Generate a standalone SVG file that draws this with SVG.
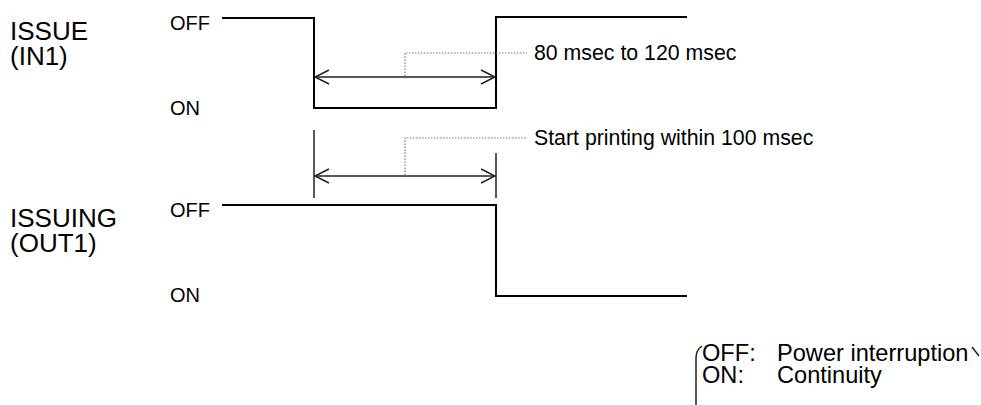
<svg xmlns="http://www.w3.org/2000/svg" width="981" height="405" viewBox="0 0 981 405">
<style>
text{font-family:"Liberation Sans",Arial,sans-serif;fill:#000}
.big{font-size:26px}
.lvl{font-size:20px}
.note{font-size:21.3px}
.leg{font-size:23.6px}
.sig{fill:none;stroke:#000;stroke-width:2}
.dim{fill:none;stroke:#222;stroke-width:1.5}
.tick{fill:none;stroke:#222;stroke-width:1.5}
.lead{fill:none;stroke:#777;stroke-width:1.2;stroke-dasharray:1.5 1.5}
</style>
<rect width="981" height="405" fill="#fff"/>
<g id="issue-label">
<text class="big" x="10" y="40">ISSUE</text>
<text class="big" x="10" y="65">(IN1)</text>
<text class="lvl" x="170" y="30">OFF</text>
<text class="lvl" x="170" y="115">ON</text>
</g>
<g id="issue-signal">
<polyline class="sig" points="222,18 314,18 314,108 496,108 496,17 687,17"/>
</g>
<g id="issuing-label">
<text class="big" x="10" y="227">ISSUING</text>
<text class="big" x="10" y="252">(OUT1)</text>
<text class="lvl" x="170" y="217">OFF</text>
<text class="lvl" x="170" y="302">ON</text>
</g>
<g id="issuing-signal">
<polyline class="sig" points="222,205 496,205 496,296 687,296"/>
</g>
<g id="connectors">
<line class="tick" x1="314" y1="130" x2="314" y2="198"/>
<line class="tick" x1="496" y1="153" x2="496" y2="198"/>
<line class="dim" x1="315" y1="77" x2="495" y2="77"/>
<polyline class="dim" points="329,70 315,77 329,84"/>
<polyline class="dim" points="481,70 495,77 481,84"/>
<line class="dim" x1="315" y1="176" x2="495" y2="176"/>
<polyline class="dim" points="329,169 315,176 329,183"/>
<polyline class="dim" points="481,169 495,176 481,183"/>
<polyline class="lead" points="405,76 405,53 527,53"/>
<polyline class="lead" points="405,175 405,138 527,138"/>
</g>
<g id="notes">
<text class="note" x="534" y="60">80 msec to 120 msec</text>
<text class="note" x="534" y="145">Start printing within 100 msec</text>
</g>
<g id="legend">
<path class="tick" d="M702,346 Q696,350 696,358 L696,405" stroke="#000"/>
<path class="tick" d="M972,347 L979,356" stroke="#000"/>
<text class="leg" x="702" y="361">OFF:</text>
<text class="leg" x="777" y="361">Power interruption</text>
<text class="leg" x="702" y="383">ON:</text>
<text class="leg" x="777" y="383">Continuity</text>
</g>
</svg>
